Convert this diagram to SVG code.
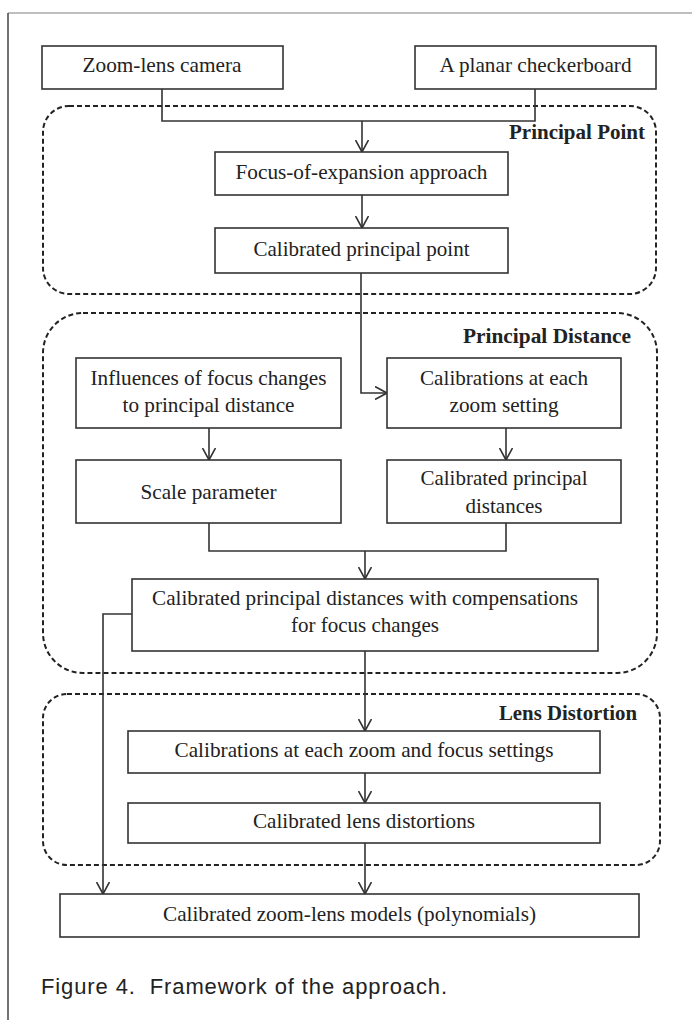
<svg xmlns="http://www.w3.org/2000/svg" width="692" height="1020" viewBox="0 0 692 1020">
<style>
.frame{fill:none;stroke-width:1.5}
.group{fill:none;stroke:#222;stroke-width:2;stroke-dasharray:5 3}
.box{fill:#fff;stroke:#333;stroke-width:1.6}
.t{font-family:"Liberation Serif","Times New Roman",serif;font-size:21px;fill:#222;text-anchor:middle}
.g{font-family:"Liberation Serif","Times New Roman",serif;font-size:20px;font-weight:bold;fill:#222;text-anchor:end}
.cap{font-family:"Liberation Sans",Arial,sans-serif;font-size:22px;fill:#222}
.c{fill:none;stroke:#333;stroke-width:1.6}
</style>
<defs>
<marker id="arr" viewBox="0 0 12 14" refX="12" refY="7" markerWidth="12" markerHeight="14" markerUnits="userSpaceOnUse" orient="auto">
<path d="M0,0.5 L12,7 L0,13.5" fill="none" stroke="#333" stroke-width="1.6"/>
</marker>
</defs>
<rect width="692" height="1020" fill="#fff"/>
<g id="frame">
<line class="frame" x1="8" y1="13" x2="692" y2="13" stroke="#aaa"/>
<line class="frame" x1="8" y1="13" x2="8" y2="1020" stroke="#444"/>
</g>
<g id="groups">
<rect id="grp-principal-point" class="group" x="43" y="106" width="613" height="188" rx="26" ry="26"/>
<rect id="grp-principal-distance" class="group" x="43" y="313" width="614" height="360" rx="40" ry="40"/>
<rect id="grp-lens-distortion" class="group" x="43" y="694" width="617" height="171" rx="24" ry="24"/>
<text class="g" x="645" y="139" textLength="136" lengthAdjust="spacingAndGlyphs">Principal Point</text>
<text class="g" x="631" y="343" textLength="168" lengthAdjust="spacingAndGlyphs">Principal Distance</text>
<text class="g" x="637" y="720" textLength="138" lengthAdjust="spacingAndGlyphs">Lens Distortion</text>
</g>
<g id="connectors">
<polyline class="c" points="162,89 162,121 535,121 535,89"/>
<line class="c" x1="362" y1="121" x2="362" y2="152" marker-end="url(#arr)"/>
<line class="c" x1="362" y1="195" x2="362" y2="228" marker-end="url(#arr)"/>
<polyline class="c" points="361,273 361,393 387,393" marker-end="url(#arr)"/>
<line class="c" x1="209" y1="428" x2="209" y2="460" marker-end="url(#arr)"/>
<line class="c" x1="506" y1="428" x2="506" y2="460" marker-end="url(#arr)"/>
<polyline class="c" points="209,523 209,551 506,551 506,523"/>
<line class="c" x1="365" y1="551" x2="365" y2="579" marker-end="url(#arr)"/>
<polyline class="c" points="132,614 103,614 103,894" marker-end="url(#arr)"/>
<line class="c" x1="365" y1="651" x2="365" y2="731" marker-end="url(#arr)"/>
<line class="c" x1="365" y1="773" x2="365" y2="803" marker-end="url(#arr)"/>
<line class="c" x1="365" y1="843" x2="365" y2="894" marker-end="url(#arr)"/>
</g>
<g id="n-camera">
<rect class="box" x="42" y="46" width="241" height="43"/>
<text class="t" x="162" y="72" textLength="159" lengthAdjust="spacingAndGlyphs">Zoom-lens camera</text>
</g>
<g id="n-checkerboard">
<rect class="box" x="415" y="46" width="241" height="43"/>
<text class="t" x="535.5" y="72" textLength="192" lengthAdjust="spacingAndGlyphs">A planar checkerboard</text>
</g>
<g id="n-foe">
<rect class="box" x="215" y="152" width="293" height="43"/>
<text class="t" x="361.5" y="179" textLength="252" lengthAdjust="spacingAndGlyphs">Focus-of-expansion approach</text>
</g>
<g id="n-pp">
<rect class="box" x="215" y="228" width="293" height="45"/>
<text class="t" x="361.5" y="256" textLength="216" lengthAdjust="spacingAndGlyphs">Calibrated principal point</text>
</g>
<g id="n-influences">
<rect class="box" x="76" y="358" width="265" height="70"/>
<text class="t" x="208.5" y="385" textLength="236" lengthAdjust="spacingAndGlyphs">Influences of focus changes</text>
<text class="t" x="208.5" y="412" textLength="172" lengthAdjust="spacingAndGlyphs">to principal distance</text>
</g>
<g id="n-cal-zoom">
<rect class="box" x="387" y="358" width="234" height="70"/>
<text class="t" x="504" y="385" textLength="168" lengthAdjust="spacingAndGlyphs">Calibrations at each</text>
<text class="t" x="504" y="412" textLength="109" lengthAdjust="spacingAndGlyphs">zoom setting</text>
</g>
<g id="n-scale">
<rect class="box" x="76" y="460" width="265" height="63"/>
<text class="t" x="208.5" y="499" textLength="136" lengthAdjust="spacingAndGlyphs">Scale parameter</text>
</g>
<g id="n-cal-pd">
<rect class="box" x="387" y="460" width="234" height="63"/>
<text class="t" x="504" y="485" textLength="167" lengthAdjust="spacingAndGlyphs">Calibrated principal</text>
<text class="t" x="504" y="513" textLength="77" lengthAdjust="spacingAndGlyphs">distances</text>
</g>
<g id="n-comp">
<rect class="box" x="132" y="579" width="466" height="72"/>
<text class="t" x="365" y="605" textLength="426" lengthAdjust="spacingAndGlyphs">Calibrated principal distances with compensations</text>
<text class="t" x="365" y="632" textLength="148" lengthAdjust="spacingAndGlyphs">for focus changes</text>
</g>
<g id="n-cal-zf">
<rect class="box" x="128" y="731" width="472" height="42"/>
<text class="t" x="364" y="757" textLength="379" lengthAdjust="spacingAndGlyphs">Calibrations at each zoom and focus settings</text>
</g>
<g id="n-lens">
<rect class="box" x="128" y="803" width="472" height="40"/>
<text class="t" x="364" y="828" textLength="222" lengthAdjust="spacingAndGlyphs">Calibrated lens distortions</text>
</g>
<g id="n-models">
<rect class="box" x="60" y="894" width="579" height="43"/>
<text class="t" x="349.5" y="921" textLength="373" lengthAdjust="spacingAndGlyphs">Calibrated zoom-lens models (polynomials)</text>
</g>
<g id="caption">
<text class="cap" x="41" y="994" textLength="406" xml:space="preserve">Figure 4.  Framework of the approach.</text>
</g>
</svg>
